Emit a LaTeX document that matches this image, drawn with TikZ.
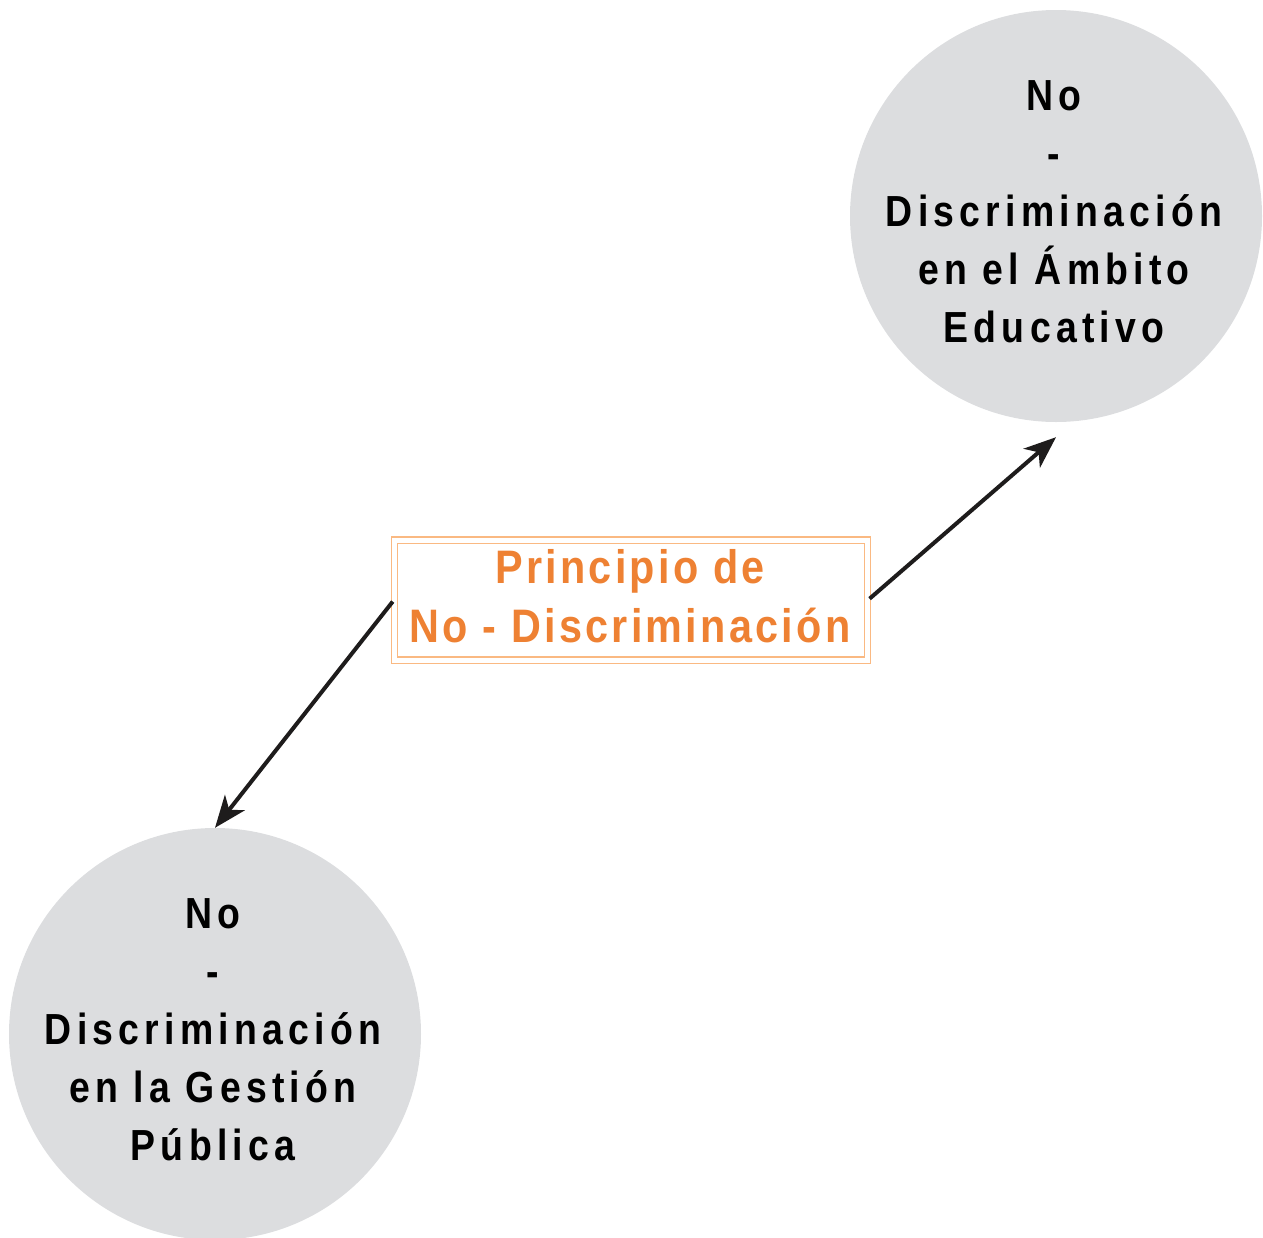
\documentclass[tikz,border=0pt]{standalone}
\usepackage{fontspec}
\setmainfont{Liberation Sans}
\newfontfamily\circfont{Liberation Sans Bold}[FakeStretch=0.86,LetterSpace=12]
\newfontfamily\boxfont{Liberation Sans Bold}[FakeStretch=0.88,LetterSpace=7]
\usetikzlibrary{arrows.meta,calc}
\definecolor{circgray}{RGB}{220,221,223}
\definecolor{orangetxt}{RGB}{238,129,51}
\definecolor{orangeline}{RGB}{250,185,130}
\definecolor{arrowblk}{RGB}{30,28,28}
\tikzset{
  circnode/.style={circle,fill=circgray,minimum size=412pt,inner sep=0pt},
  circtext/.style={inner sep=0pt,align=center,font=\circfont\fontsize{43.5}{58}\selectfont},
  boxnode/.style={draw=orangeline,double=white,double distance=5pt,line width=1.1pt,
    minimum width=473pt,minimum height=120pt,inner sep=0pt},
  boxtext/.style={inner sep=0pt,align=center,text=orangetxt,
    font=\boxfont\fontsize{47}{59}\selectfont},
  arr/.style={draw=arrowblk,line width=4pt,-{Stealth[length=32pt,width=25pt,inset=9pt]}}
}
\begin{document}
\begin{tikzpicture}[x=1pt,y=-1pt]
\useasboundingbox (0,0) rectangle (1263,1237);
\node[circnode] (edu) at (1056,216) {};
\node[circtext] (edutxt) at (1054,212) {No\\-\\Discriminación\\en el Ámbito\\Educativo};
\node[circnode] (pub) at (215,1034) {};
\node[circtext] (pubtxt) at (213,1030) {No\\-\\Discriminación\\en la Gestión\\Pública};
\node[boxnode] (pri) at (631,600) {};
\node[boxtext] (pritxt) at (630,596) {Principio de\\No - Discriminación};
\coordinate (edutip) at ($(edu.south)+(0,15)$);
\draw[arr,shorten <=2pt] (pri.west) -- (pub.north);
\draw[arr,shorten <=2pt] (pri.east) -- (edutip);
\end{tikzpicture}
\end{document}
